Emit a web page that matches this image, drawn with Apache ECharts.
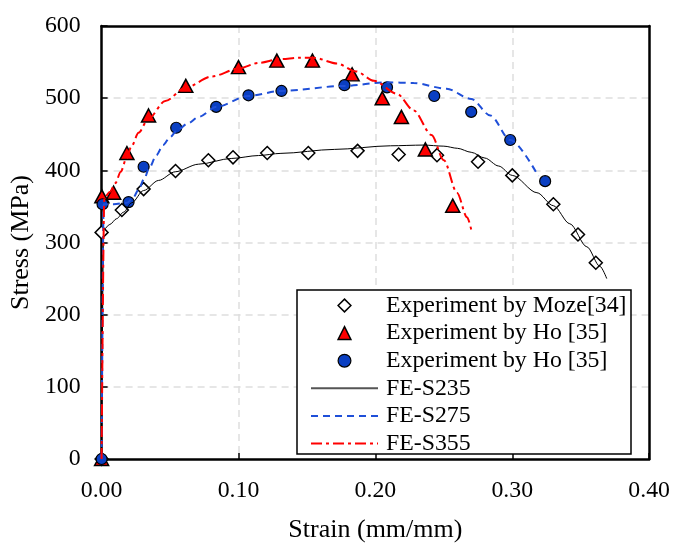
<!DOCTYPE html>
<html>
<head>
<meta charset="utf-8">
<script src="https://cdn.jsdelivr.net/npm/echarts@6/dist/echarts.min.js"></script>
<style>
html,body{margin:0;padding:0;background:#fff;}
#chart{width:673px;height:548px;}
</style>
</head>
<body>
<div id="chart"></div>
<script>
// ---- Data ----
const xTicks = [0, 0.1, 0.2, 0.3, 0.4];
const yTicks = [0, 100, 200, 300, 400, 500, 600];

const seriesNames = ['Experiment by Moze[34]', 'Experiment by Ho [35]', 'Experiment by Ho [35] ', 'FE-S235', 'FE-S275', 'FE-S355'];

const mozeStrain = [0, 0.000, 0.0148, 0.0307, 0.054, 0.078, 0.096, 0.121, 0.151, 0.187, 0.217, 0.245, 0.275, 0.300, 0.330, 0.348, 0.361];
const mozeStress = [0, 314, 345, 374, 399, 414, 418, 424, 424, 427, 422, 421, 412, 393, 353, 311, 272];

const hoTriStrain = [0, 0.0002, 0.0088, 0.0185, 0.0343, 0.0615, 0.1, 0.128, 0.154, 0.183, 0.205, 0.219, 0.2365, 0.2565];
const hoTriStress = [0, 364, 369, 424, 476, 517, 543, 552, 552, 533, 500, 474, 429, 351];

const hoCirStrain = [0, 0.0007, 0.0197, 0.0307, 0.0545, 0.0837, 0.1073, 0.1314, 0.1774, 0.2085, 0.243, 0.270, 0.2985, 0.324];
const hoCirStress = [0, 353, 356, 405, 459, 488, 504, 510, 518, 515, 503, 481, 442, 385];

const fe235Strain = [0, 0.0015, 0.006, 0.011, 0.016, 0.022, 0.0307, 0.0416, 0.0538, 0.0708, 0.0951, 0.1146, 0.131, 0.17, 0.211, 0.235, 0.25, 0.26, 0.27, 0.28, 0.29, 0.30, 0.318, 0.33, 0.342, 0.3545, 0.364, 0.369];
const fe235Stress = [0, 318, 325, 333, 342, 355, 372, 386, 398, 408.5, 416.5, 420.5, 423.5, 429, 434, 435, 433.5, 430.5, 425, 417, 406, 393, 369, 351, 326, 294, 267, 250];

const fe275Strain = [0, 0.0015, 0.0088, 0.0185, 0.023, 0.027, 0.031, 0.035, 0.040, 0.045, 0.050, 0.055, 0.063, 0.0708, 0.084, 0.107, 0.131, 0.177, 0.2085, 0.228, 0.252, 0.27, 0.284, 0.2985, 0.319];
const fe275Stress = [0, 353, 353, 355, 362, 373, 388, 404, 421, 435, 446, 455, 465, 474, 488, 503, 510, 517, 522, 521, 513, 499, 476, 442, 392];

const fe355Strain = [0, 0.002, 0.006, 0.010, 0.014, 0.018, 0.022, 0.027, 0.034, 0.0465, 0.061, 0.0805, 0.1, 0.115, 0.13, 0.145, 0.155, 0.172, 0.186, 0.199, 0.2158, 0.228, 0.241, 0.25, 0.2596, 0.267, 0.27];
const fe355Stress = [0, 362, 370, 382, 398, 416, 434, 452, 471, 496, 514, 530, 541, 549, 554, 556, 556, 548, 537, 524, 506, 483, 449, 414, 369, 335, 318];

// ---- helpers ----
function pairs(xs, ys) { return xs.map((x, i) => [x, ys[i]]); }
const FONT = 'Liberation Serif';

const chart = echarts.init(document.getElementById('chart'), null, {renderer: 'canvas'});

function markerSeries(name, xs, ys, symbol, size, itemStyle) {
  return {
    name: name, type: 'line', data: pairs(xs, ys),
    symbol: symbol, symbolSize: size, showSymbol: true, showAllSymbol: true,
    lineStyle: {width: 0, opacity: 0},
    itemStyle: itemStyle,
    emphasis: {disabled: true}, silent: true, z: 2
  };
}
function curveSeries(name, xs, ys, lineStyle) {
  return {
    name: name, type: 'line', data: pairs(xs, ys),
    showSymbol: false, symbol: 'none', smooth: 0.3, smoothMonotone: 'x',
    lineStyle: lineStyle, itemStyle: {color: lineStyle.color},
    emphasis: {disabled: true}, silent: true, z: 3
  };
}

const lineS235 = {color: '#000000', width: 1, type: 'solid'};
const lineS275 = {color: '#1f4fd8', width: 2, type: [7, 5]};
const lineS355 = {color: '#ff0000', width: 2, type: [11, 4, 3, 4]};

const option = {
  animation: false,
  backgroundColor: '#ffffff',
  textStyle: {fontFamily: FONT},
  grid: {left: 101, right: 23, top: 26, bottom: 83, containLabel: false},
  xAxis: [{
    type: 'value', min: xTicks[0], max: xTicks[xTicks.length - 1], interval: 0.1,
    name: 'Strain (mm/mm)', nameLocation: 'middle', nameGap: 58,
    nameTextStyle: {fontFamily: FONT, fontSize: 26, color: '#000'},
    axisLine: {show: true, onZero: false, lineStyle: {color: '#000', width: 2.5}},
    axisTick: {show: true, inside: true, length: 6, lineStyle: {color: '#000', width: 1.5}},
    axisLabel: {fontFamily: FONT, fontSize: 23.8, color: '#000', margin: 20, formatter: v => v.toFixed(2)},
    splitLine: {show: true, showMinLine: false, showMaxLine: false, lineStyle: {color: '#dedede', width: 1.5, type: [7, 5]}}
  }, {
    type: 'value', position: 'top', min: xTicks[0], max: xTicks[xTicks.length - 1],
    axisLine: {show: true, onZero: false, lineStyle: {color: '#000', width: 2.5}},
    axisTick: {show: false}, axisLabel: {show: false}, splitLine: {show: false}
  }],
  yAxis: [{
    type: 'value', min: yTicks[0], max: yTicks[yTicks.length - 1], interval: 100,
    name: 'Stress (MPa)', nameLocation: 'middle', nameGap: 62,
    nameTextStyle: {fontFamily: FONT, fontSize: 26, color: '#000'},
    axisLine: {show: true, onZero: false, lineStyle: {color: '#000', width: 2.5}},
    axisTick: {show: true, inside: true, length: 6, lineStyle: {color: '#000', width: 1.5}},
    axisLabel: {fontFamily: FONT, fontSize: 23.8, color: '#000', margin: 21},
    splitLine: {show: true, showMinLine: false, showMaxLine: false, lineStyle: {color: '#dedede', width: 1.5, type: [7, 5]}}
  }, {
    type: 'value', position: 'right', min: yTicks[0], max: yTicks[yTicks.length - 1],
    axisLine: {show: true, onZero: false, lineStyle: {color: '#000', width: 2.5}},
    axisTick: {show: false}, axisLabel: {show: false}, splitLine: {show: false}
  }],
  graphic: {elements: [{
    type: 'rect', z: 5, silent: true,
    shape: {x: 297, y: 290, width: 334, height: 164},
    style: {fill: '#ffffff', stroke: '#000000', lineWidth: 1.5}
  }]},
  legend: {
    orient: 'vertical', left: 310, top: 293.5, padding: 0,
    itemWidth: 67, itemHeight: 16, itemGap: 3.6, z: 10,
    selectedMode: false,
    textStyle: {fontFamily: FONT, fontSize: 23.8, color: '#000', lineHeight: 23.8, padding: [0, 0, 0, 3]},
    data: [
      {name: seriesNames[0], itemStyle: {color: '#ffffff', borderColor: '#000', borderWidth: 1.5}, lineStyle: {opacity: 0, width: 0}},
      {name: seriesNames[1], itemStyle: {color: '#ff0000', borderColor: '#000', borderWidth: 1.5}, lineStyle: {opacity: 0, width: 0}},
      {name: seriesNames[2], itemStyle: {color: '#0a3fc2', borderColor: '#000', borderWidth: 1.2}, lineStyle: {opacity: 0, width: 0}},
      {name: seriesNames[3], itemStyle: {opacity: 0}, lineStyle: {color: '#555555', width: 2, type: 'solid'}},
      {name: seriesNames[4], itemStyle: {opacity: 0}, lineStyle: {color: lineS275.color, width: 2, type: [7, 5]}},
      {name: seriesNames[5], itemStyle: {opacity: 0}, lineStyle: {color: lineS355.color, width: 2, type: [11, 4, 3, 4]}}
    ]
  },
  series: [
    markerSeries(seriesNames[0], mozeStrain, mozeStress, 'diamond', 13, {color: '#ffffff', borderColor: '#000', borderWidth: 1.5}),
    markerSeries(seriesNames[1], hoTriStrain, hoTriStress, 'triangle', [14, 13], {color: '#ff0000', borderColor: '#000', borderWidth: 1.5}),
    markerSeries(seriesNames[2], hoCirStrain, hoCirStress, 'circle', 11, {color: '#0a3fc2', borderColor: '#000', borderWidth: 1.2}),
    curveSeries(seriesNames[3], fe235Strain, fe235Stress, lineS235),
    curveSeries(seriesNames[4], fe275Strain, fe275Stress, lineS275),
    curveSeries(seriesNames[5], fe355Strain, fe355Stress, lineS355)
  ]
};
chart.setOption(option);
</script>
</body>
</html>
